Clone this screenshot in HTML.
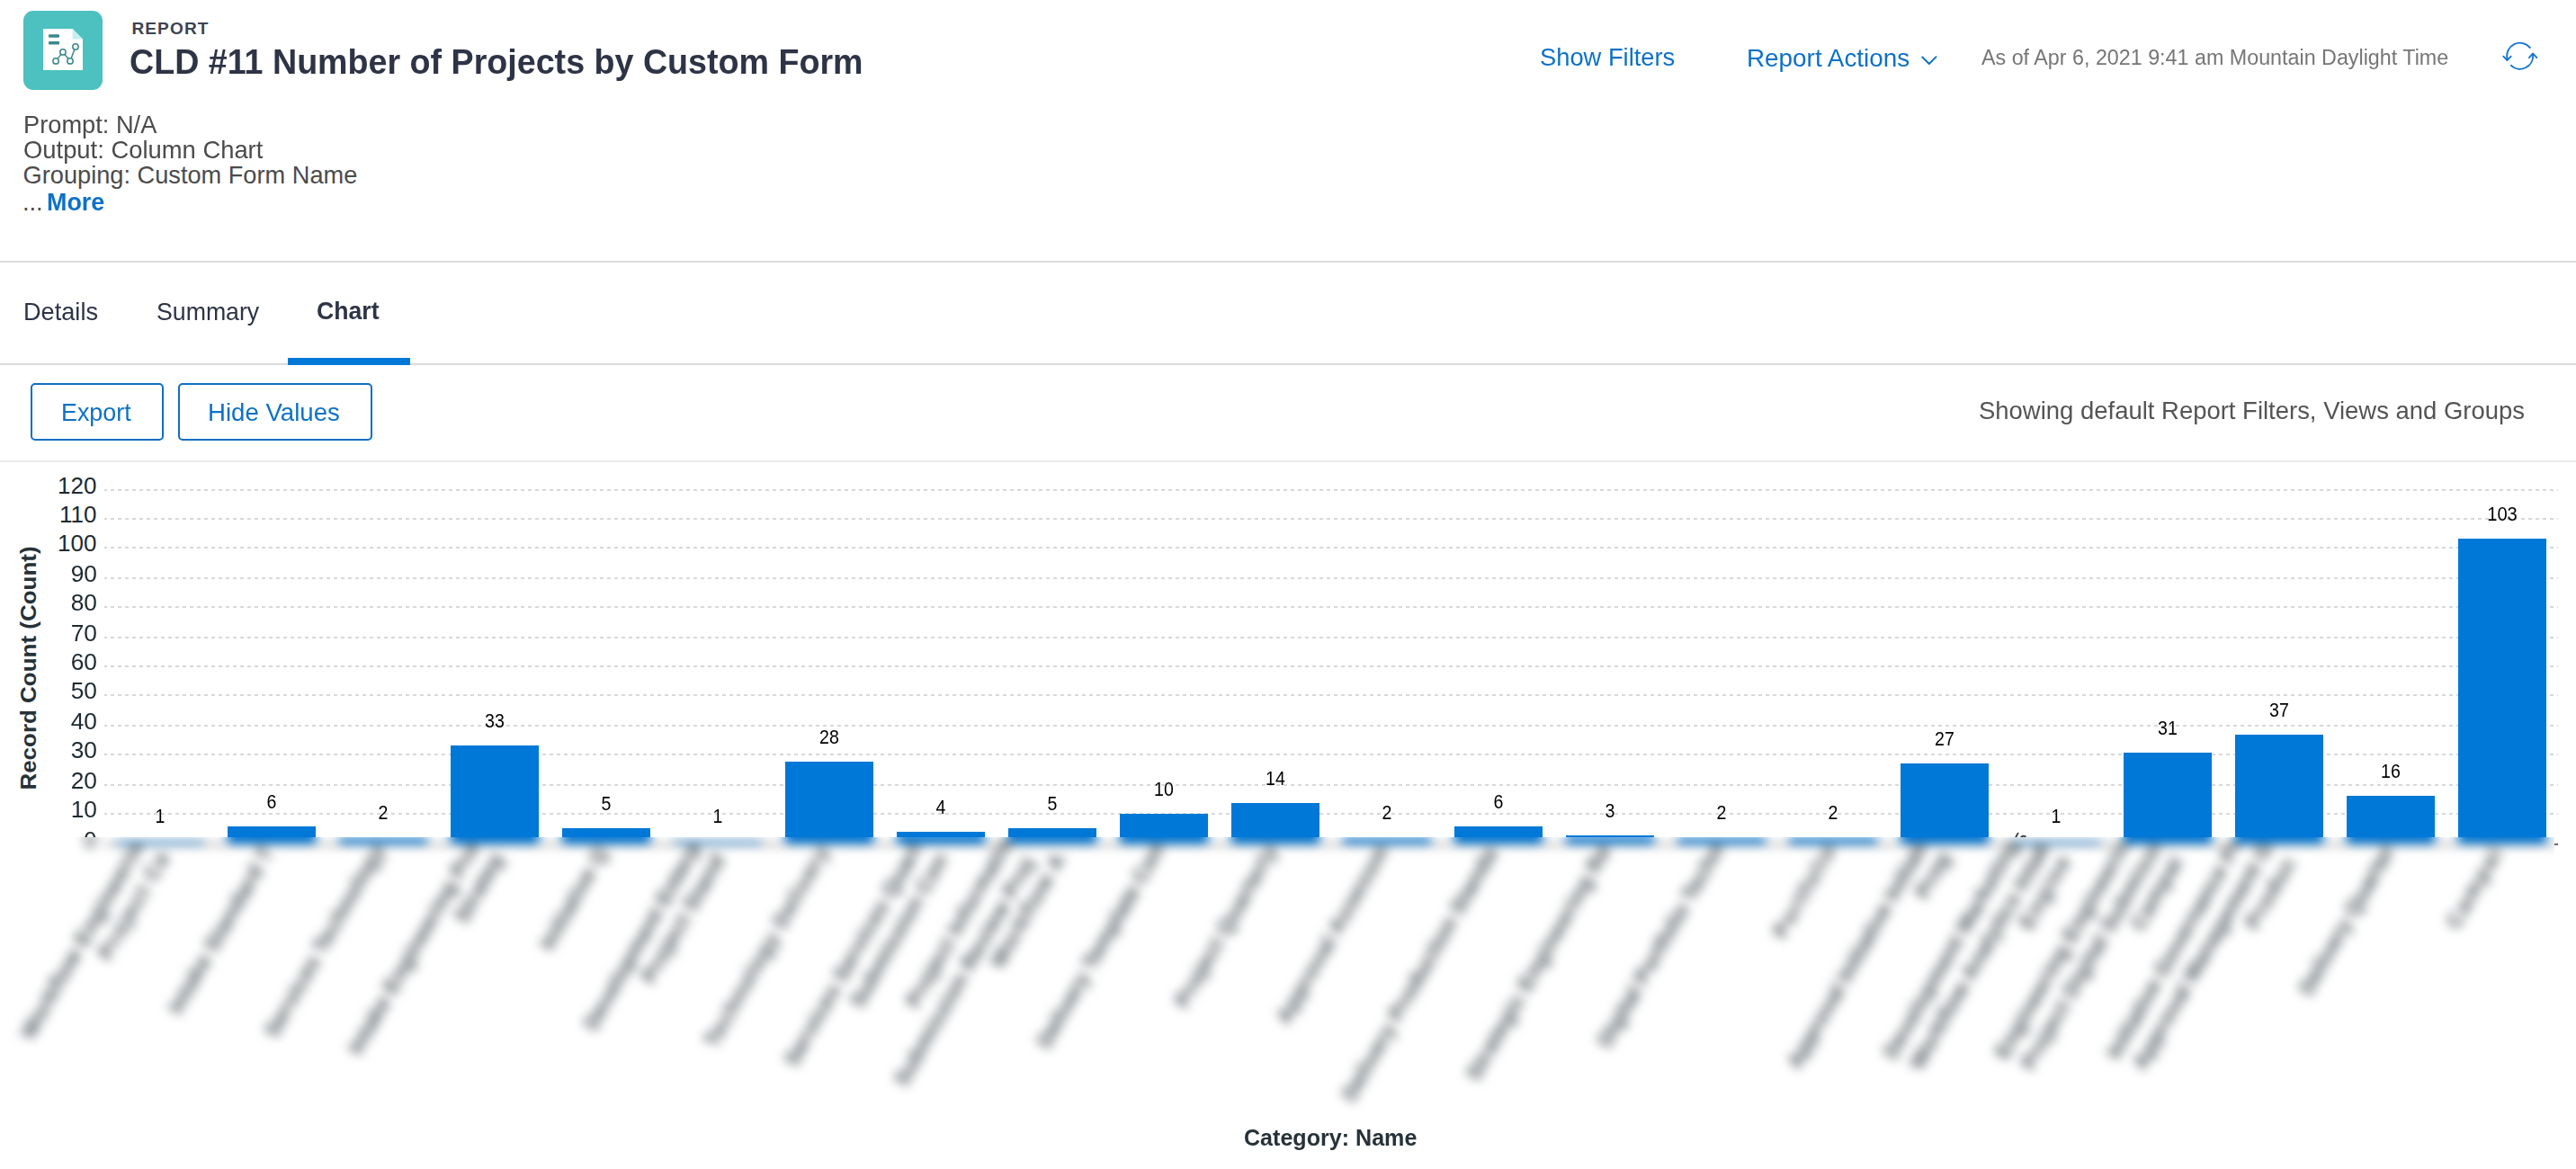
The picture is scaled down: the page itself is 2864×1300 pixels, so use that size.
<!DOCTYPE html>
<html><head><meta charset="utf-8"><title>CLD #11 Number of Projects by Custom Form</title>
<style>
html,body{margin:0;padding:0;background:#fff;}
body{width:2864px;height:1300px;position:relative;overflow:hidden;font-family:"Liberation Sans", sans-serif;}
</style></head><body>
<div style="position:absolute;left:26px;top:12px;width:88px;height:88px;border-radius:11px;background:#4cc1bf;"></div>
<svg style="position:absolute;left:26px;top:12px" width="88" height="88" viewBox="26 12 88 88">
<path d="M48 32 H80.6 L92 43.4 V78 H48 Z" fill="#fff"/>
<path d="M80.6 32 V43.4 H92 Z" fill="#c6eef0"/>
<rect x="54" y="38.2" width="12" height="3.5" rx="1" fill="#3a898d"/>
<rect x="54" y="46.1" width="12" height="3.5" rx="1" fill="#3a898d"/>
<g stroke="#3a898d" stroke-width="1.5" fill="#fff">
<path d="M62.1 67.9 L69.9 57.9 L78 67.9 L84 52" fill="none"/>
<circle cx="62.1" cy="67.9" r="3.2"/><circle cx="69.9" cy="57.9" r="3.2"/>
<circle cx="78" cy="67.9" r="3.2"/><circle cx="84" cy="52" r="3.2"/>
</g></svg>
<div style="position:absolute;top:22.42px;font-size:19.1px;line-height:19.1px;color:#3c4352;white-space:nowrap;font-weight:bold;letter-spacing:1.1px;left:146.40px;transform-origin:0 0;">REPORT</div>
<div style="position:absolute;top:49.06px;font-size:39.6px;line-height:39.6px;color:#2e3446;white-space:nowrap;font-weight:bold;left:144.20px;transform-origin:0 0;transform:scaleX(0.9508);">CLD #11 Number of Projects by Custom Form</div>
<div style="position:absolute;top:124.96px;font-size:27.2px;line-height:27.2px;color:#4b4b4b;white-space:nowrap;left:25.60px;transform-origin:0 0;transform:scaleX(1.0020);">Prompt: N/A</div>
<div style="position:absolute;top:152.96px;font-size:27.2px;line-height:27.2px;color:#4b4b4b;white-space:nowrap;left:25.60px;transform-origin:0 0;transform:scaleX(1.0072);">Output: Column Chart</div>
<div style="position:absolute;top:180.76px;font-size:27.2px;line-height:27.2px;color:#4b4b4b;white-space:nowrap;left:25.60px;transform-origin:0 0;">Grouping: Custom Form Name</div>
<div style="position:absolute;top:210.96px;font-size:27.2px;line-height:27.2px;color:#4b4b4b;white-space:nowrap;left:25.00px;transform-origin:0 0;">...</div>
<div style="position:absolute;top:210.88px;font-size:27.3px;line-height:27.3px;color:#0d71c8;white-space:nowrap;font-weight:bold;left:52.00px;transform-origin:0 0;transform:scaleX(0.9862);">More</div>
<div style="position:absolute;top:51.23px;font-size:27px;line-height:27px;color:#0d71c8;white-space:nowrap;left:1712.30px;transform-origin:0 0;transform:scaleX(1.0114);">Show Filters</div>
<div style="position:absolute;top:51.06px;font-size:27.2px;line-height:27.2px;color:#0d71c8;white-space:nowrap;left:1941.80px;transform-origin:0 0;transform:scaleX(1.0249);">Report Actions</div>
<svg style="position:absolute;left:2134px;top:60px" width="22" height="16" viewBox="0 0 22 16"><path d="M3.2 3.5 L10.8 11 L18.6 3.2" fill="none" stroke="#0d71c8" stroke-width="1.9" stroke-linecap="round" stroke-linejoin="round"/></svg>
<div style="position:absolute;top:53.42px;font-size:23.0px;line-height:23.0px;color:#767676;white-space:nowrap;left:2203.30px;transform-origin:0 0;transform:scaleX(1.0127);">As of Apr 6, 2021 9:41 am Mountain Daylight Time</div>
<svg style="position:absolute;left:2775px;top:38px" width="52" height="48" viewBox="2775 38 52 48">
<g fill="none" stroke="#1474cf" stroke-width="1.85" stroke-linecap="round" stroke-linejoin="round">
<path d="M2787.52 65.21 A14.5 14.5 0 0 1 2812.97 53.07"/>
<path d="M2783.3 62.7 L2787.4 67 L2791.7 62.7"/>
<path d="M2791.81 72.80 A14.5 14.5 0 0 0 2816.16 61.19"/>
<path d="M2811.9 64.1 L2816.2 59.5 L2820.4 64.1"/>
</g></svg>
<div style="position:absolute;left:0px;top:290px;width:2864px;height:2px;background:#dcdcdc;"></div>
<div style="position:absolute;top:333.29px;font-size:27.4px;line-height:27.4px;color:#2e3446;white-space:nowrap;left:25.70px;transform-origin:0 0;transform:scaleX(0.9916);">Details</div>
<div style="position:absolute;top:333.29px;font-size:27.4px;line-height:27.4px;color:#2e3446;white-space:nowrap;left:173.60px;transform-origin:0 0;transform:scaleX(0.9744);">Summary</div>
<div style="position:absolute;top:331.72px;font-size:27.6px;line-height:27.6px;color:#2e3446;white-space:nowrap;font-weight:bold;left:351.80px;transform-origin:0 0;transform:scaleX(0.9653);">Chart</div>
<div style="position:absolute;left:0px;top:404px;width:2864px;height:2px;background:#dcdcdc;"></div>
<div style="position:absolute;left:320px;top:398px;width:136px;height:8px;background:#0078d7;"></div>
<div style="position:absolute;left:34px;top:426px;width:144px;height:60px;border:2px solid #0e6fc3;border-radius:5px;"></div>
<div style="position:absolute;left:198px;top:426px;width:212px;height:60px;border:2px solid #0e6fc3;border-radius:5px;"></div>
<div style="position:absolute;top:444.66px;font-size:27.2px;line-height:27.2px;color:#0d71c8;white-space:nowrap;left:68.00px;transform-origin:0 0;transform:scaleX(0.9885);">Export</div>
<div style="position:absolute;top:445.06px;font-size:27.2px;line-height:27.2px;color:#0d71c8;white-space:nowrap;left:230.70px;transform-origin:0 0;transform:scaleX(1.0152);">Hide Values</div>
<div style="position:absolute;top:442.88px;font-size:28px;line-height:28px;color:#545454;white-space:nowrap;left:2200.20px;transform-origin:0 0;transform:scaleX(0.9808);">Showing default Report Filters, Views and Groups</div>
<div style="position:absolute;left:0px;top:512px;width:2864px;height:2px;background:#e9e9e9;"></div>
<div style="position:absolute;left:116px;top:544px;width:2728px;height:2px;background:repeating-linear-gradient(90deg,#d8d8d8 0 3px,transparent 3px 7px,#d8d8d8 7px 8px);"></div>
<div style="position:absolute;left:116px;top:576px;width:2728px;height:2px;background:repeating-linear-gradient(90deg,#d8d8d8 0 3px,transparent 3px 7px,#d8d8d8 7px 8px);"></div>
<div style="position:absolute;left:116px;top:608px;width:2728px;height:2px;background:repeating-linear-gradient(90deg,#d8d8d8 0 3px,transparent 3px 7px,#d8d8d8 7px 8px);"></div>
<div style="position:absolute;left:116px;top:642px;width:2728px;height:2px;background:repeating-linear-gradient(90deg,#d8d8d8 0 3px,transparent 3px 7px,#d8d8d8 7px 8px);"></div>
<div style="position:absolute;left:116px;top:674px;width:2728px;height:2px;background:repeating-linear-gradient(90deg,#d8d8d8 0 3px,transparent 3px 7px,#d8d8d8 7px 8px);"></div>
<div style="position:absolute;left:116px;top:708px;width:2728px;height:2px;background:repeating-linear-gradient(90deg,#d8d8d8 0 3px,transparent 3px 7px,#d8d8d8 7px 8px);"></div>
<div style="position:absolute;left:116px;top:740px;width:2728px;height:2px;background:repeating-linear-gradient(90deg,#d8d8d8 0 3px,transparent 3px 7px,#d8d8d8 7px 8px);"></div>
<div style="position:absolute;left:116px;top:772px;width:2728px;height:2px;background:repeating-linear-gradient(90deg,#d8d8d8 0 3px,transparent 3px 7px,#d8d8d8 7px 8px);"></div>
<div style="position:absolute;left:116px;top:806px;width:2728px;height:2px;background:repeating-linear-gradient(90deg,#d8d8d8 0 3px,transparent 3px 7px,#d8d8d8 7px 8px);"></div>
<div style="position:absolute;left:116px;top:838px;width:2728px;height:2px;background:repeating-linear-gradient(90deg,#d8d8d8 0 3px,transparent 3px 7px,#d8d8d8 7px 8px);"></div>
<div style="position:absolute;left:116px;top:872px;width:2728px;height:2px;background:repeating-linear-gradient(90deg,#d8d8d8 0 3px,transparent 3px 7px,#d8d8d8 7px 8px);"></div>
<div style="position:absolute;left:116px;top:904px;width:2728px;height:2px;background:repeating-linear-gradient(90deg,#d8d8d8 0 3px,transparent 3px 7px,#d8d8d8 7px 8px);"></div>
<div style="position:absolute;top:526.58px;font-size:26px;line-height:26px;color:#1e2a30;white-space:nowrap;right:2756.50px;text-align:right;transform-origin:100% 0;">120</div>
<div style="position:absolute;top:558.58px;font-size:26px;line-height:26px;color:#1e2a30;white-space:nowrap;right:2756.50px;text-align:right;transform-origin:100% 0;">110</div>
<div style="position:absolute;top:590.58px;font-size:26px;line-height:26px;color:#1e2a30;white-space:nowrap;right:2756.50px;text-align:right;transform-origin:100% 0;">100</div>
<div style="position:absolute;top:624.58px;font-size:26px;line-height:26px;color:#1e2a30;white-space:nowrap;right:2756.50px;text-align:right;transform-origin:100% 0;transform:scaleX(1.0128);">90</div>
<div style="position:absolute;top:656.58px;font-size:26px;line-height:26px;color:#1e2a30;white-space:nowrap;right:2756.50px;text-align:right;transform-origin:100% 0;transform:scaleX(1.0128);">80</div>
<div style="position:absolute;top:690.58px;font-size:26px;line-height:26px;color:#1e2a30;white-space:nowrap;right:2756.50px;text-align:right;transform-origin:100% 0;transform:scaleX(1.0128);">70</div>
<div style="position:absolute;top:722.58px;font-size:26px;line-height:26px;color:#1e2a30;white-space:nowrap;right:2756.50px;text-align:right;transform-origin:100% 0;transform:scaleX(1.0128);">60</div>
<div style="position:absolute;top:754.58px;font-size:26px;line-height:26px;color:#1e2a30;white-space:nowrap;right:2756.50px;text-align:right;transform-origin:100% 0;transform:scaleX(1.0128);">50</div>
<div style="position:absolute;top:788.58px;font-size:26px;line-height:26px;color:#1e2a30;white-space:nowrap;right:2756.50px;text-align:right;transform-origin:100% 0;transform:scaleX(1.0128);">40</div>
<div style="position:absolute;top:820.58px;font-size:26px;line-height:26px;color:#1e2a30;white-space:nowrap;right:2756.50px;text-align:right;transform-origin:100% 0;transform:scaleX(1.0128);">30</div>
<div style="position:absolute;top:854.58px;font-size:26px;line-height:26px;color:#1e2a30;white-space:nowrap;right:2756.50px;text-align:right;transform-origin:100% 0;transform:scaleX(1.0128);">20</div>
<div style="position:absolute;top:886.58px;font-size:26px;line-height:26px;color:#1e2a30;white-space:nowrap;right:2756.50px;text-align:right;transform-origin:100% 0;transform:scaleX(1.0128);">10</div>
<div style="position:absolute;left:-167.8px;top:730.3px;width:400px;height:26px;line-height:26px;text-align:center;font-size:24.6px;font-weight:bold;color:#263238;transform:rotate(-90deg) scaleX(1.056);white-space:nowrap;">Record Count (Count)</div>
<div style="position:absolute;top:896.65px;font-size:21.9px;line-height:21.9px;color:#000;white-space:nowrap;left:-122.00px;width:600px;text-align:center;transform-origin:50% 0;transform:scaleX(0.8934);">1</div>
<div style="position:absolute;left:253px;top:919px;width:98px;height:12px;background:#0078d7;"></div>
<div style="position:absolute;top:880.65px;font-size:21.9px;line-height:21.9px;color:#000;white-space:nowrap;left:2.00px;width:600px;text-align:center;transform-origin:50% 0;transform:scaleX(0.8934);">6</div>
<div style="position:absolute;top:892.65px;font-size:21.9px;line-height:21.9px;color:#000;white-space:nowrap;left:126.00px;width:600px;text-align:center;transform-origin:50% 0;transform:scaleX(0.8934);">2</div>
<div style="position:absolute;left:501px;top:829px;width:98px;height:102px;background:#0078d7;"></div>
<div style="position:absolute;top:790.65px;font-size:21.9px;line-height:21.9px;color:#000;white-space:nowrap;left:250.00px;width:600px;text-align:center;transform-origin:50% 0;transform:scaleX(0.8934);">33</div>
<div style="position:absolute;left:625px;top:921px;width:98px;height:10px;background:#0078d7;"></div>
<div style="position:absolute;top:882.65px;font-size:21.9px;line-height:21.9px;color:#000;white-space:nowrap;left:374.00px;width:600px;text-align:center;transform-origin:50% 0;transform:scaleX(0.8934);">5</div>
<div style="position:absolute;top:896.65px;font-size:21.9px;line-height:21.9px;color:#000;white-space:nowrap;left:498.00px;width:600px;text-align:center;transform-origin:50% 0;transform:scaleX(0.8934);">1</div>
<div style="position:absolute;left:873px;top:847px;width:98px;height:84px;background:#0078d7;"></div>
<div style="position:absolute;top:808.65px;font-size:21.9px;line-height:21.9px;color:#000;white-space:nowrap;left:622.00px;width:600px;text-align:center;transform-origin:50% 0;transform:scaleX(0.8934);">28</div>
<div style="position:absolute;left:997px;top:925px;width:98px;height:6px;background:#0078d7;"></div>
<div style="position:absolute;top:886.65px;font-size:21.9px;line-height:21.9px;color:#000;white-space:nowrap;left:746.00px;width:600px;text-align:center;transform-origin:50% 0;transform:scaleX(0.8934);">4</div>
<div style="position:absolute;left:1121px;top:921px;width:98px;height:10px;background:#0078d7;"></div>
<div style="position:absolute;top:882.65px;font-size:21.9px;line-height:21.9px;color:#000;white-space:nowrap;left:870.00px;width:600px;text-align:center;transform-origin:50% 0;transform:scaleX(0.8934);">5</div>
<div style="position:absolute;left:1245px;top:905px;width:98px;height:26px;background:#0078d7;"></div>
<div style="position:absolute;top:866.65px;font-size:21.9px;line-height:21.9px;color:#000;white-space:nowrap;left:994.00px;width:600px;text-align:center;transform-origin:50% 0;transform:scaleX(0.8934);">10</div>
<div style="position:absolute;left:1369px;top:893px;width:98px;height:38px;background:#0078d7;"></div>
<div style="position:absolute;top:854.65px;font-size:21.9px;line-height:21.9px;color:#000;white-space:nowrap;left:1118.00px;width:600px;text-align:center;transform-origin:50% 0;transform:scaleX(0.8934);">14</div>
<div style="position:absolute;top:892.65px;font-size:21.9px;line-height:21.9px;color:#000;white-space:nowrap;left:1242.00px;width:600px;text-align:center;transform-origin:50% 0;transform:scaleX(0.8934);">2</div>
<div style="position:absolute;left:1617px;top:919px;width:98px;height:12px;background:#0078d7;"></div>
<div style="position:absolute;top:880.65px;font-size:21.9px;line-height:21.9px;color:#000;white-space:nowrap;left:1366.00px;width:600px;text-align:center;transform-origin:50% 0;transform:scaleX(0.8934);">6</div>
<div style="position:absolute;left:1741px;top:929px;width:98px;height:2px;background:#0078d7;"></div>
<div style="position:absolute;top:890.65px;font-size:21.9px;line-height:21.9px;color:#000;white-space:nowrap;left:1490.00px;width:600px;text-align:center;transform-origin:50% 0;transform:scaleX(0.8934);">3</div>
<div style="position:absolute;top:892.65px;font-size:21.9px;line-height:21.9px;color:#000;white-space:nowrap;left:1614.00px;width:600px;text-align:center;transform-origin:50% 0;transform:scaleX(0.8934);">2</div>
<div style="position:absolute;top:892.65px;font-size:21.9px;line-height:21.9px;color:#000;white-space:nowrap;left:1738.00px;width:600px;text-align:center;transform-origin:50% 0;transform:scaleX(0.8934);">2</div>
<div style="position:absolute;left:2113px;top:849px;width:98px;height:82px;background:#0078d7;"></div>
<div style="position:absolute;top:810.65px;font-size:21.9px;line-height:21.9px;color:#000;white-space:nowrap;left:1862.00px;width:600px;text-align:center;transform-origin:50% 0;transform:scaleX(0.8934);">27</div>
<div style="position:absolute;top:896.65px;font-size:21.9px;line-height:21.9px;color:#000;white-space:nowrap;left:1986.00px;width:600px;text-align:center;transform-origin:50% 0;transform:scaleX(0.8934);">1</div>
<div style="position:absolute;left:2361px;top:837px;width:98px;height:94px;background:#0078d7;"></div>
<div style="position:absolute;top:798.65px;font-size:21.9px;line-height:21.9px;color:#000;white-space:nowrap;left:2110.00px;width:600px;text-align:center;transform-origin:50% 0;transform:scaleX(0.8934);">31</div>
<div style="position:absolute;left:2485px;top:817px;width:98px;height:114px;background:#0078d7;"></div>
<div style="position:absolute;top:778.65px;font-size:21.9px;line-height:21.9px;color:#000;white-space:nowrap;left:2234.00px;width:600px;text-align:center;transform-origin:50% 0;transform:scaleX(0.8934);">37</div>
<div style="position:absolute;left:2609px;top:885px;width:98px;height:46px;background:#0078d7;"></div>
<div style="position:absolute;top:846.65px;font-size:21.9px;line-height:21.9px;color:#000;white-space:nowrap;left:2358.00px;width:600px;text-align:center;transform-origin:50% 0;transform:scaleX(0.8934);">16</div>
<div style="position:absolute;left:2733px;top:599px;width:98px;height:332px;background:#0078d7;"></div>
<div style="position:absolute;top:560.65px;font-size:21.9px;line-height:21.9px;color:#000;white-space:nowrap;left:2482.00px;width:600px;text-align:center;transform-origin:50% 0;transform:scaleX(0.9208);">103</div>
<div style="position:absolute;left:0px;top:931px;width:2840px;height:330px;overflow:hidden;">
<div style="position:absolute;left:0px;top:-931px;width:2864px;height:1300px;filter:blur(6px);">
<div style="position:absolute;left:129px;top:935px;width:98px;height:4px;background:#0078d7;"></div>
<div style="position:absolute;left:253px;top:919px;width:98px;height:20px;background:#0078d7;"></div>
<div style="position:absolute;left:377px;top:931px;width:98px;height:8px;background:#0078d7;"></div>
<div style="position:absolute;left:501px;top:829px;width:98px;height:110px;background:#0078d7;"></div>
<div style="position:absolute;left:625px;top:921px;width:98px;height:18px;background:#0078d7;"></div>
<div style="position:absolute;left:749px;top:935px;width:98px;height:4px;background:#0078d7;"></div>
<div style="position:absolute;left:873px;top:847px;width:98px;height:92px;background:#0078d7;"></div>
<div style="position:absolute;left:997px;top:925px;width:98px;height:14px;background:#0078d7;"></div>
<div style="position:absolute;left:1121px;top:921px;width:98px;height:18px;background:#0078d7;"></div>
<div style="position:absolute;left:1245px;top:905px;width:98px;height:34px;background:#0078d7;"></div>
<div style="position:absolute;left:1369px;top:893px;width:98px;height:46px;background:#0078d7;"></div>
<div style="position:absolute;left:1493px;top:931px;width:98px;height:8px;background:#0078d7;"></div>
<div style="position:absolute;left:1617px;top:919px;width:98px;height:20px;background:#0078d7;"></div>
<div style="position:absolute;left:1741px;top:929px;width:98px;height:10px;background:#0078d7;"></div>
<div style="position:absolute;left:1865px;top:931px;width:98px;height:8px;background:#0078d7;"></div>
<div style="position:absolute;left:1989px;top:931px;width:98px;height:8px;background:#0078d7;"></div>
<div style="position:absolute;left:2113px;top:849px;width:98px;height:90px;background:#0078d7;"></div>
<div style="position:absolute;left:2237px;top:935px;width:98px;height:4px;background:#0078d7;"></div>
<div style="position:absolute;left:2361px;top:837px;width:98px;height:102px;background:#0078d7;"></div>
<div style="position:absolute;left:2485px;top:817px;width:98px;height:122px;background:#0078d7;"></div>
<div style="position:absolute;left:2609px;top:885px;width:98px;height:54px;background:#0078d7;"></div>
<div style="position:absolute;left:2733px;top:599px;width:98px;height:340px;background:#0078d7;"></div>
<div style="position:absolute;left:116px;top:938px;width:2728px;height:2px;background:#666;"></div>
<div style="position:absolute;top:920.58px;font-size:26px;line-height:26px;color:#1e2a30;white-space:nowrap;right:2756.50px;text-align:right;transform-origin:100% 0;transform:scaleX(0.9745);">0</div>
<div style="position:absolute;left:30.3px;top:1141.4px;width:268.7px;font-size:24px;line-height:24px;height:24px;color:#4a5257;white-space:nowrap;font-weight:bold;letter-spacing:0.58px;transform-origin:0 13.2px;transform:rotate(-60deg);">Workflow Engineerin</div>
<div style="position:absolute;left:115.6px;top:1053.1px;width:153.8px;font-size:24px;line-height:24px;height:24px;color:#4a5257;white-space:nowrap;font-weight:bold;letter-spacing:1.67px;transform-origin:0 13.2px;transform:rotate(-60deg);">Project Ca</div>
<div style="position:absolute;left:193.6px;top:1112.5px;width:229.8px;font-size:24px;line-height:24px;height:24px;color:#4a5257;white-space:nowrap;font-weight:bold;letter-spacing:0.53px;transform-origin:0 13.2px;transform:rotate(-60deg);">Intake Standard T</div>
<div style="position:absolute;left:301.2px;top:1138.9px;width:263.0px;font-size:24px;line-height:24px;height:24px;color:#4a5257;white-space:nowrap;font-weight:bold;letter-spacing:0.26px;transform-origin:0 13.2px;transform:rotate(-60deg);">Services Technology</div>
<div style="position:absolute;left:394.3px;top:1157.8px;width:286.9px;font-size:24px;line-height:24px;height:24px;color:#4a5257;white-space:nowrap;font-weight:bold;letter-spacing:0.26px;transform-origin:0 13.2px;transform:rotate(-60deg);">Intake Engineering Pro</div>
<div style="position:absolute;left:511.7px;top:1012.1px;width:105.1px;font-size:24px;line-height:24px;height:24px;color:#4a5257;white-space:nowrap;font-weight:bold;letter-spacing:0.40px;transform-origin:0 13.2px;transform:rotate(-60deg);">Strateg</div>
<div style="position:absolute;left:606.6px;top:1042.4px;width:147.5px;font-size:24px;line-height:24px;height:24px;color:#4a5257;white-space:nowrap;font-weight:bold;letter-spacing:0.44px;transform-origin:0 13.2px;transform:rotate(-60deg);">Initiative Q</div>
<div style="position:absolute;left:655.9px;top:1131.1px;width:256.6px;font-size:24px;line-height:24px;height:24px;color:#4a5257;white-space:nowrap;font-weight:bold;letter-spacing:0.19px;transform-origin:0 13.2px;transform:rotate(-60deg);">Development Enterp</div>
<div style="position:absolute;left:719.7px;top:1079.0px;width:181.3px;font-size:24px;line-height:24px;height:24px;color:#4a5257;white-space:nowrap;font-weight:bold;letter-spacing:0.55px;transform-origin:0 13.2px;transform:rotate(-60deg);">Project Stand</div>
<div style="position:absolute;left:790.0px;top:1150.2px;width:274.1px;font-size:24px;line-height:24px;height:24px;color:#4a5257;white-space:nowrap;font-weight:bold;letter-spacing:1.17px;transform-origin:0 13.2px;transform:rotate(-60deg);">Technology Delivery</div>
<div style="position:absolute;left:878.6px;top:1170.6px;width:301.5px;font-size:24px;line-height:24px;height:24px;color:#4a5257;white-space:nowrap;font-weight:bold;letter-spacing:0.30px;transform-origin:0 13.2px;transform:rotate(-60deg);">Services Services Quart</div>
<div style="position:absolute;left:951.6px;top:1106.0px;width:213.5px;font-size:24px;line-height:24px;height:24px;color:#4a5257;white-space:nowrap;font-weight:bold;letter-spacing:0.32px;transform-origin:0 13.2px;transform:rotate(-60deg);">Submission Con</div>
<div style="position:absolute;left:1013.8px;top:1106.1px;width:234.6px;font-size:24px;line-height:24px;height:24px;color:#4a5257;white-space:nowrap;font-weight:bold;letter-spacing:0.54px;transform-origin:0 13.2px;transform:rotate(-60deg);">Project Informatio</div>
<div style="position:absolute;left:1001.2px;top:1193.4px;width:309.0px;font-size:24px;line-height:24px;height:24px;color:#4a5257;white-space:nowrap;font-weight:bold;letter-spacing:0.49px;transform-origin:0 13.2px;transform:rotate(-60deg);">Submission Review Proj</div>
<div style="position:absolute;left:1108.4px;top:1061.9px;width:162.4px;font-size:24px;line-height:24px;height:24px;color:#4a5257;white-space:nowrap;font-weight:bold;letter-spacing:1.31px;transform-origin:0 13.2px;transform:rotate(-60deg);">Workflow A</div>
<div style="position:absolute;left:1160.0px;top:1151.4px;width:277.9px;font-size:24px;line-height:24px;height:24px;color:#4a5257;white-space:nowrap;font-weight:bold;letter-spacing:0.05px;transform-origin:0 13.2px;transform:rotate(-60deg);">Delivery Template Con</div>
<div style="position:absolute;left:1312.5px;top:1105.5px;width:224.0px;font-size:24px;line-height:24px;height:24px;color:#4a5257;white-space:nowrap;font-weight:bold;letter-spacing:0.57px;transform-origin:0 13.2px;transform:rotate(-60deg);">Project Quarterly</div>
<div style="position:absolute;left:1426.4px;top:1123.9px;width:244.4px;font-size:24px;line-height:24px;height:24px;color:#4a5257;white-space:nowrap;font-weight:bold;letter-spacing:0.62px;transform-origin:0 13.2px;transform:rotate(-60deg);">Approval Assessm</div>
<div style="position:absolute;left:1498.7px;top:1209.7px;width:341.1px;font-size:24px;line-height:24px;height:24px;color:#4a5257;white-space:nowrap;font-weight:bold;letter-spacing:0.31px;transform-origin:0 13.2px;transform:rotate(-60deg);">Delivery Production Standa</div>
<div style="position:absolute;left:1636.6px;top:1187.1px;width:317.7px;font-size:24px;line-height:24px;height:24px;color:#4a5257;white-space:nowrap;font-weight:bold;letter-spacing:0.54px;transform-origin:0 13.2px;transform:rotate(-60deg);">Strategic Engineering Re</div>
<div style="position:absolute;left:1782.9px;top:1150.3px;width:276.6px;font-size:24px;line-height:24px;height:24px;color:#4a5257;white-space:nowrap;font-weight:bold;letter-spacing:0.11px;transform-origin:0 13.2px;transform:rotate(-60deg);">Digital Portfolio Techn</div>
<div style="position:absolute;left:1978.1px;top:1029.3px;width:135.6px;font-size:24px;line-height:24px;height:24px;color:#4a5257;white-space:nowrap;font-weight:bold;letter-spacing:2.12px;transform-origin:0 13.2px;transform:rotate(-60deg);">Portfolio</div>
<div style="position:absolute;left:1993.9px;top:1174.2px;width:306.3px;font-size:24px;line-height:24px;height:24px;color:#4a5257;white-space:nowrap;font-weight:bold;letter-spacing:0.03px;transform-origin:0 13.2px;transform:rotate(-60deg);">Approval Initiative Initiati</div>
<div style="position:absolute;left:2136.1px;top:985.3px;width:75.6px;font-size:24px;line-height:24px;height:24px;color:#4a5257;white-space:nowrap;font-weight:bold;letter-spacing:0.31px;transform-origin:0 13.2px;transform:rotate(-60deg);">Prog</div>
<div style="position:absolute;left:2101.2px;top:1162.8px;width:297.1px;font-size:24px;line-height:24px;height:24px;color:#4a5257;white-space:nowrap;font-weight:bold;letter-spacing:0.32px;transform-origin:0 13.2px;transform:rotate(-60deg);">Development Marketing</div>
<div style="position:absolute;left:2129.7px;top:1174.5px;width:307.0px;font-size:24px;line-height:24px;height:24px;color:#4a5257;white-space:nowrap;font-weight:bold;letter-spacing:0.19px;transform-origin:0 13.2px;transform:rotate(-60deg);">Workflow Analytics Intak</div>
<div style="position:absolute;left:2251.9px;top:1018.8px;width:110.2px;font-size:24px;line-height:24px;height:24px;color:#4a5257;white-space:nowrap;font-weight:bold;letter-spacing:2.04px;transform-origin:0 13.2px;transform:rotate(-60deg);">Engine</div>
<div style="position:absolute;left:2225.2px;top:1162.8px;width:297.1px;font-size:24px;line-height:24px;height:24px;color:#4a5257;white-space:nowrap;font-weight:bold;letter-spacing:0.37px;transform-origin:0 13.2px;transform:rotate(-60deg);">Engineering Engineerin</div>
<div style="position:absolute;left:2253.7px;top:1174.5px;width:307.0px;font-size:24px;line-height:24px;height:24px;color:#4a5257;white-space:nowrap;font-weight:bold;letter-spacing:0.53px;transform-origin:0 13.2px;transform:rotate(-60deg);">Project Digital Submissi</div>
<div style="position:absolute;left:2376.3px;top:1019.5px;width:110.9px;font-size:24px;line-height:24px;height:24px;color:#4a5257;white-space:nowrap;font-weight:bold;letter-spacing:0.83px;transform-origin:0 13.2px;transform:rotate(-60deg);">Campai</div>
<div style="position:absolute;left:2349.2px;top:1162.8px;width:297.1px;font-size:24px;line-height:24px;height:24px;color:#4a5257;white-space:nowrap;font-weight:bold;letter-spacing:0.10px;transform-origin:0 13.2px;transform:rotate(-60deg);">Initiative Governance Pr</div>
<div style="position:absolute;left:2377.7px;top:1174.5px;width:307.0px;font-size:24px;line-height:24px;height:24px;color:#4a5257;white-space:nowrap;font-weight:bold;letter-spacing:0.22px;transform-origin:0 13.2px;transform:rotate(-60deg);">Approval Management G</div>
<div style="position:absolute;left:2503.4px;top:1018.5px;width:108.4px;font-size:24px;line-height:24px;height:24px;color:#4a5257;white-space:nowrap;font-weight:bold;letter-spacing:1.14px;transform-origin:0 13.2px;transform:rotate(-60deg);">Produc</div>
<div style="position:absolute;left:2563.0px;top:1092.2px;width:208.2px;font-size:24px;line-height:24px;height:24px;color:#4a5257;white-space:nowrap;font-weight:bold;letter-spacing:0.10px;transform-origin:0 13.2px;transform:rotate(-60deg);">Delivery Quarter</div>
<div style="position:absolute;left:2727.1px;top:1018.3px;width:119.5px;font-size:24px;line-height:24px;height:24px;color:#4a5257;white-space:nowrap;font-weight:bold;letter-spacing:2.56px;transform-origin:0 13.2px;transform:rotate(-60deg);">Campai</div>
</div></div>
<svg style="position:absolute;left:2236px;top:922px" width="22" height="9" viewBox="2236 922 22 9"><g fill="none" stroke="#2a2f33" stroke-width="1.7" stroke-linecap="round"><path d="M2240.6 932 L2243.6 926.6"/><path d="M2246.6 931.5 Q2249 928.6 2251.8 930.2"/></g></svg>
<div style="position:absolute;left:0px;top:915px;width:2864px;height:16px;overflow:hidden;">
<div style="position:absolute;top:5.58px;font-size:26px;line-height:26px;color:#1e2a30;white-space:nowrap;right:2756.50px;text-align:right;transform-origin:100% 0;transform:scaleX(0.9745);">0</div>
</div>
<div style="position:absolute;left:2840px;top:938px;width:4px;height:2px;background:#666;"></div>
<div style="position:absolute;top:1252.86px;font-size:25.9px;line-height:25.9px;color:#263238;white-space:nowrap;font-weight:bold;left:1383.40px;transform-origin:0 0;transform:scaleX(0.9688);">Category: Name</div>
</body></html>
